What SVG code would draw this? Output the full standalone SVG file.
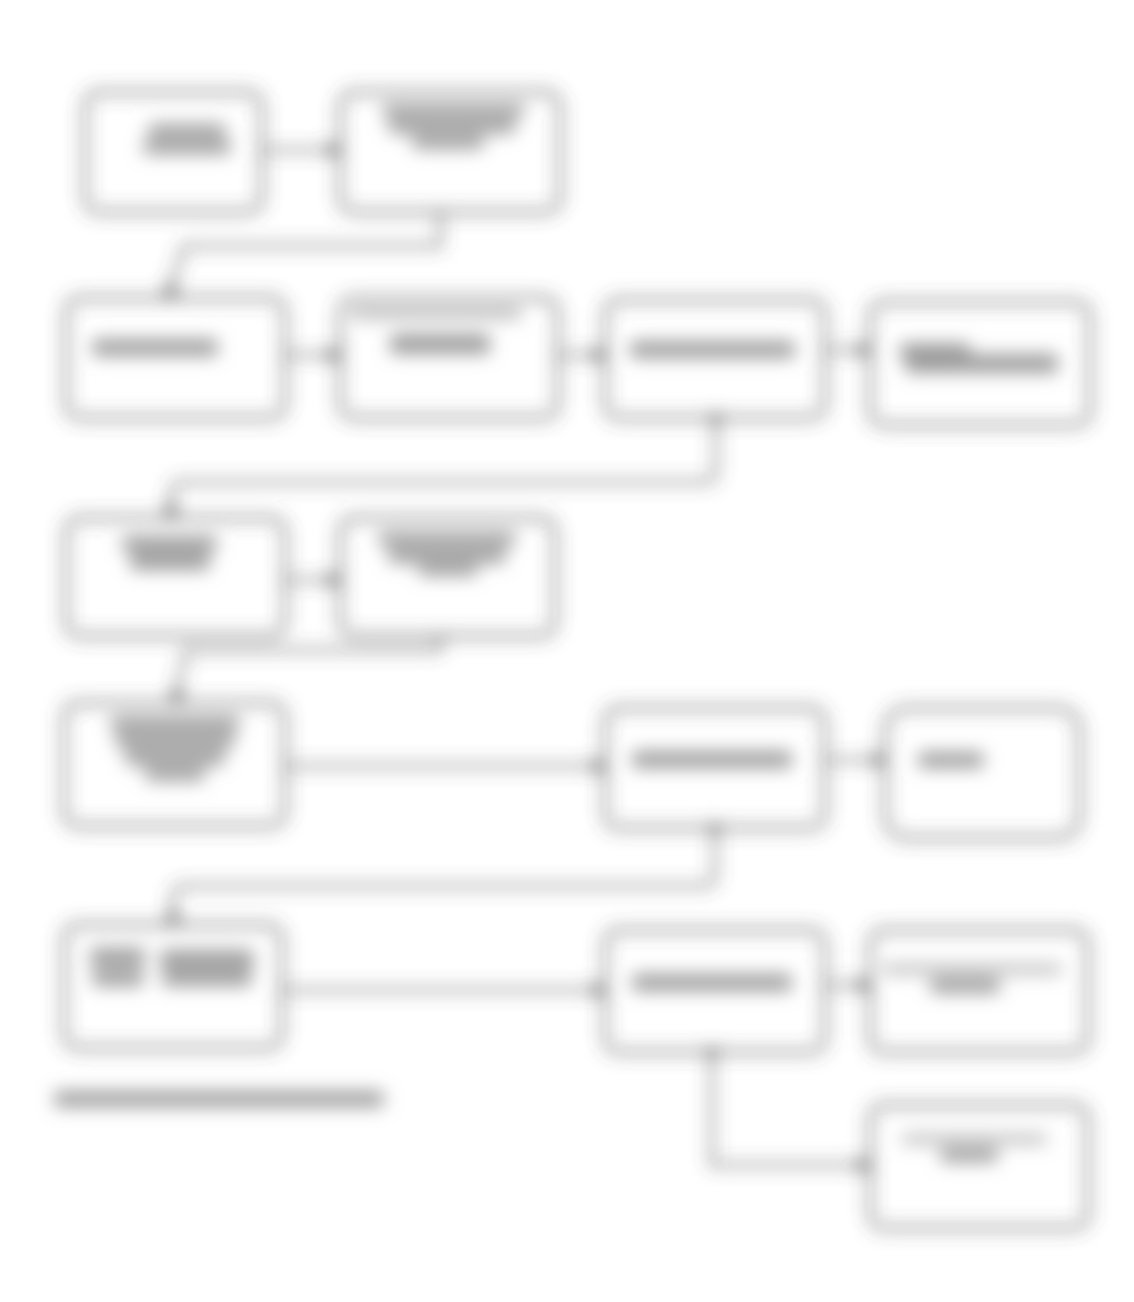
<svg xmlns="http://www.w3.org/2000/svg" width="1134" height="1302" viewBox="0 0 1134 1302">
<style>
.box{fill:none;stroke:#4a4a4a;stroke-width:3.4}
.ln{fill:none;stroke:#4a4a4a;stroke-width:3}
.tx{fill:#9c9c9c}
.tl{fill:#bababa}
</style>
<defs>
<filter id="soft" x="-6%" y="-6%" width="112%" height="112%"><feGaussianBlur stdDeviation="9"/></filter>
<marker id="ah" viewBox="0 0 10 10" refX="9" refY="5" markerWidth="4.5" markerHeight="4.5" orient="auto" markerUnits="strokeWidth"><path d="M0,0 L10,5 L0,10 z" fill="#444"/></marker>
<marker id="st" viewBox="0 0 10 10" refX="5" refY="5" markerWidth="4" markerHeight="4" markerUnits="strokeWidth"><circle cx="5" cy="5" r="4" fill="#444"/></marker>
</defs>
<rect width="1134" height="1302" fill="#ffffff"/>
<g filter="url(#soft)">
<g id="connectors">
<path class="ln" d="M262,150 H340" marker-end="url(#ah)"/>
<path class="ln" d="M440,212 V246 H184 L168,298" marker-end="url(#ah)"/>
<path class="ln" d="M285,355 H340" marker-end="url(#ah)"/>
<path class="ln" d="M558,355 H605" marker-end="url(#ah)"/>
<path class="ln" d="M825,350 H870" marker-end="url(#ah)"/>
<path class="ln" d="M716,418 V470 Q716,482 704,482 H184 Q172,482 171,494 V518" marker-start="url(#st)" marker-end="url(#ah)"/>
<path class="ln" d="M285,580 H340" marker-end="url(#ah)"/>
<path class="ln" d="M440,636 V650 H186 L175,703" marker-end="url(#ah)"/>
<path class="ln" d="M285,766 H605" marker-end="url(#ah)"/>
<path class="ln" d="M825,760 H885" marker-end="url(#ah)"/>
<path class="ln" d="M715,828 V874 Q715,886 703,886 H184 Q174,886 173,898 V925" marker-start="url(#st)" marker-end="url(#ah)"/>
<path class="ln" d="M282,990 H605" marker-end="url(#ah)"/>
<path class="ln" d="M825,985 H870" marker-end="url(#ah)"/>
<path class="ln" d="M712,1052 V1165 H870" marker-start="url(#st)" marker-end="url(#ah)"/>
</g>
<g id="nodeA"><rect class="box" x="85" y="92" width="177" height="120" rx="14"/><rect class="tx" x="148" y="124" width="78" height="13" rx="5"/><rect class="tx" x="143" y="140" width="88" height="14" rx="5"/></g>
<g id="nodeB"><rect class="box" x="340" y="92" width="220" height="120" rx="14"/><rect class="tx" x="382" y="104" width="143" height="12" rx="5"/><rect class="tx" x="388" y="119" width="128" height="14" rx="5"/><rect class="tx" x="412" y="136" width="72" height="13" rx="5"/></g>
<g id="nodeC"><rect class="box" x="66" y="298" width="219" height="120" rx="14"/><rect class="tx" x="92" y="339" width="126" height="17" rx="5"/></g>
<g id="nodeD"><rect class="box" x="340" y="298" width="218" height="120" rx="14"/><rect class="tl" x="350" y="307" width="172" height="12" rx="5"/><rect class="tx" x="390" y="334" width="100" height="20" rx="5"/></g>
<g id="nodeE"><rect class="box" x="605" y="300" width="220" height="118" rx="14"/><rect class="tx" x="630" y="341" width="165" height="17" rx="5"/></g>
<g id="nodeF"><rect class="box" x="870" y="302" width="220" height="123" rx="14"/><rect class="tx" x="900" y="343" width="70" height="17" rx="5"/><rect class="tx" x="960" y="354" width="98" height="19" rx="5"/><rect class="tx" x="905" y="360" width="60" height="13" rx="5"/></g>
<g id="nodeG"><rect class="box" x="66" y="518" width="219" height="118" rx="14"/><rect class="tx" x="122" y="536" width="95" height="15" rx="5"/><rect class="tx" x="130" y="553" width="80" height="17" rx="5"/></g>
<g id="nodeH"><rect class="box" x="340" y="518" width="215" height="118" rx="14"/><rect class="tx" x="378" y="532" width="138" height="13" rx="5"/><rect class="tx" x="388" y="548" width="118" height="15" rx="5"/><rect class="tx" x="418" y="565" width="60" height="11" rx="5"/></g>
<g id="nodeI"><rect class="box" x="64" y="703" width="221" height="123" rx="14"/><rect class="tx" x="110" y="716" width="130" height="13" rx="5"/><rect class="tx" x="115" y="732" width="120" height="15" rx="5"/><rect class="tx" x="125" y="750" width="100" height="15" rx="5"/><rect class="tx" x="145" y="768" width="60" height="13" rx="5"/></g>
<g id="nodeJ"><rect class="box" x="605" y="708" width="220" height="120" rx="14"/><rect class="tx" x="632" y="751" width="160" height="17" rx="5"/></g>
<g id="nodeK"><rect class="box" x="885" y="708" width="195" height="130" rx="22"/><rect class="tx" x="918" y="752" width="66" height="16" rx="5"/></g>
<g id="nodeL"><rect class="box" x="64" y="925" width="218" height="123" rx="14"/><rect class="tx" x="90" y="948" width="55" height="18" rx="5"/><rect class="tx" x="160" y="950" width="94" height="18" rx="5"/><rect class="tx" x="92" y="970" width="52" height="16" rx="5"/><rect class="tx" x="162" y="970" width="90" height="16" rx="5"/></g>
<g id="nodeM"><rect class="box" x="605" y="930" width="220" height="122" rx="14"/><rect class="tx" x="632" y="974" width="160" height="17" rx="5"/></g>
<g id="nodeN"><rect class="box" x="870" y="930" width="218" height="122" rx="14"/><rect class="tl" x="882" y="964" width="180" height="10" rx="4"/><rect class="tx" x="930" y="978" width="70" height="15" rx="5"/></g>
<g id="nodeO"><rect class="box" x="870" y="1105" width="218" height="123" rx="14"/><rect class="tl" x="902" y="1134" width="145" height="10" rx="4"/><rect class="tx" x="940" y="1148" width="58" height="14" rx="5"/></g>
<g id="caption"><rect class="tx" x="54" y="1091" width="330" height="16" rx="5"/></g>
</g>
</svg>
